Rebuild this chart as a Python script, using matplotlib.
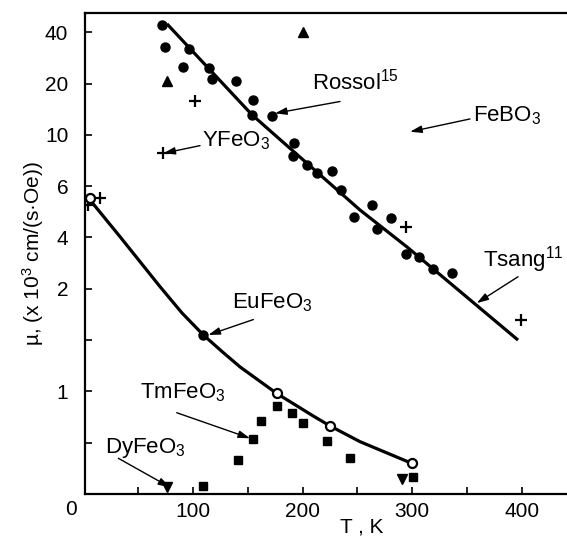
import numpy as np
import matplotlib
matplotlib.use("Agg")
import matplotlib.pyplot as plt

plt.rcParams['font.family'] = ['Liberation Sans', 'DejaVu Sans']
plt.rcParams['mathtext.fontset'] = 'custom'
plt.rcParams['mathtext.rm'] = 'Liberation Sans'
plt.rcParams['mathtext.it'] = 'Liberation Sans:italic'
plt.rcParams['mathtext.bf'] = 'Liberation Sans:bold'

# ---- data (T in K, mu in 10^3 cm/(s*Oe)) ----
rossol_T = [71.7, 74.7, 90.8, 96.6, 115.1, 117.3, 139.1, 154.6, 153.7, 171.9, 192.5, 191.6,
            204.4, 212.9, 226.6, 235.1, 247.2, 263.6, 267.5, 280.6, 294.3, 306.4, 319.2, 335.9]
rossol_mu = [45.7, 34.2, 26.4, 33.4, 26.2, 21.8, 20.9, 16.7, 13.9, 13.7, 9.39, 8.38,
             7.68, 7.03, 7.18, 5.84, 4.79, 5.27, 4.32, 4.75, 3.36, 3.23, 2.76, 2.60]

febo3_T = [76.2, 200.7]
febo3_mu = [21.1, 40.0]

yfeo3_T = [102.0, 72.6, 15.5, 4.8, 294.3, 399.1]
yfeo3_mu = [16.6, 8.56, 5.53, 5.27, 4.42, 1.70]

eu_open_T = [6.4, 176.4, 225.1, 299.5]
eu_open_mu = [5.53, 0.98, 0.666, 0.299]
eu_filled_T = [109.6]
eu_filled_mu = [1.55]

tm_T = [109.6, 141.5, 154.6, 161.9, 177.0, 190.7, 200.7, 222.0, 243.3, 300.3]
tm_mu = [0.078, 0.331, 0.533, 0.714, 0.858, 0.787, 0.689, 0.52, 0.348, 0.163]

dy_T = [76.8, 291.0]
dy_mu = [0.071, 0.143]

# fitted curves
tsang_T = [76.5, 154.0, 252.4, 295.2, 396.4]
tsang_mu = [46.5, 13.9, 5.07, 3.63, 1.50]

eu_curve_T = [6.4, 33.7, 70.2, 90.2, 109.6, 126.6, 143.1, 176.5, 209.8, 225.1, 252.4, 299.5]
eu_curve_mu = [5.46, 4.03, 2.08, 1.764, 1.55, 1.389, 1.238, 0.98, 0.76, 0.663, 0.51, 0.299]

# axis tick values
ytick_vals = [1, 2, 4, 6, 10, 20, 40]
ytick_labels = ['1', '2', '4', '6', '10', '20', '40']
yminor_vals = [0.5, 1.5]
xtick_vals = [100, 200, 300, 400]
xminor_vals = [50, 150, 250, 350]

# ---- the (irregular) vertical scale of the original figure ----
scale_vals = np.array([0, 0.5, 1, 1.5, 2, 4, 6, 10, 20, 40, 80])
scale_pos = np.arange(len(scale_vals), dtype=float)

def fwd(v):
    return np.interp(v, scale_vals, scale_pos)

def inv(u):
    return np.interp(u, scale_pos, scale_vals)

W, H = 567, 545
fig = plt.figure(figsize=(W / 100, H / 100), dpi=100)
ax = fig.add_axes([85 / W, (H - 494) / H, (W - 85) / W, (494 - 13) / H])
ax.set_yscale('function', functions=(fwd, inv))
ax.set_xlim(1.8, 441)
ax.set_ylim(0, 55.0)

lw_curve = 2.3
ax.plot(tsang_T, tsang_mu, color='black', lw=lw_curve, solid_capstyle='butt',
        solid_joinstyle='round', zorder=2)
ax.plot(eu_curve_T, eu_curve_mu, color='black', lw=lw_curve, solid_capstyle='butt',
        solid_joinstyle='round', zorder=2)

ax.plot(rossol_T, rossol_mu, 'o', color='black', ms=6.5, zorder=3)
ax.plot(febo3_T, febo3_mu, '^', color='black', ms=7, zorder=3)
ax.plot(yfeo3_T, yfeo3_mu, '+', color='black', ms=8, mew=1.6, zorder=3)
ax.plot(eu_open_T, eu_open_mu, 'o', mfc='white', mec='black', mew=1.6, ms=6.5, zorder=4)
ax.plot(eu_filled_T, eu_filled_mu, 'o', color='black', ms=6.5, zorder=4)
ax.plot(tm_T, tm_mu, 's', color='black', ms=6, zorder=3, clip_on=False)
ax.plot(dy_T, dy_mu, 'v', color='black', ms=7, zorder=3, clip_on=False)

# spines
for s in ['left', 'bottom', 'top']:
    ax.spines[s].set_linewidth(1.6)
ax.spines['right'].set_visible(False)

ax.set_yticks(ytick_vals)
ax.set_yticklabels(ytick_labels)
ax.set_yticks(yminor_vals, minor=True)
ax.set_xticks(xtick_vals)
ax.set_xticklabels([str(v) for v in xtick_vals])
ax.set_xticks(xminor_vals, minor=True)
ax.tick_params(axis='both', which='both', direction='in', width=1.2, length=5,
               right=False, top=False)
ax.tick_params(axis='y', which='both', labelsize=15, pad=12)
ax.tick_params(axis='x', which='both', labelsize=15, pad=6)
ax.yaxis.set_minor_formatter(matplotlib.ticker.NullFormatter())

fig.text(71 / W, 1 - 509.5 / H, '0', ha='center', va='center', fontsize=15)
fig.text(362 / W, 1 - 527 / H, 'T , K', ha='center', va='center', fontsize=15)
fig.text(33 / W, 1 - 253 / H, '\u00b5, (x 10$^{3}$ cm/(s\u00b7Oe))', rotation=90,
         ha='center', va='center', fontsize=15)

arrow = dict(arrowstyle='-|>,head_length=0.7,head_width=0.22', lw=1.0, color='black',
             shrinkA=0, shrinkB=0)
fs = 16
ax.annotate('', xy=(174.9, 14.2), xytext=(234.2, 16.5), arrowprops=arrow)
ax.text(208.3, 18.75, r'Rossol$^{15}$', fontsize=fs, va='baseline', ha='left')

ax.annotate('', xy=(73.2, 8.56), xytext=(106.6, 9.16), arrowprops=arrow)
ax.text(108.0, 9.08, r'YFeO$_3$', fontsize=fs, va='baseline', ha='left')

ax.annotate('', xy=(298.0, 10.6), xytext=(352.6, 13.1), arrowprops=arrow)
ax.text(355.4, 12.57, r'FeBO$_3$', fontsize=fs, va='baseline', ha='left')

ax.annotate('', xy=(358.7, 1.86), xytext=(396.4, 2.47), arrowprops=arrow)
ax.text(364.5, 2.86, r'Tsang$^{11}$', fontsize=fs, va='baseline', ha='left')

ax.annotate('', xy=(114.2, 1.55), xytext=(155.2, 1.70), arrowprops=arrow)
ax.text(135.5, 1.81, r'EuFeO$_3$', fontsize=fs, va='baseline', ha='left')

ax.annotate('', xy=(152.2, 0.543), xytext=(85.4, 0.792), arrowprops=arrow)
ax.text(51.9, 0.933, r'TmFeO$_3$', fontsize=fs, va='baseline', ha='left')

ax.annotate('', xy=(79.3, 0.065), xytext=(32.2, 0.348), arrowprops=arrow)
ax.text(20.0, 0.397, r'DyFeO$_3$', fontsize=fs, va='baseline', ha='left')

fig.savefig('out.png', dpi=100)
